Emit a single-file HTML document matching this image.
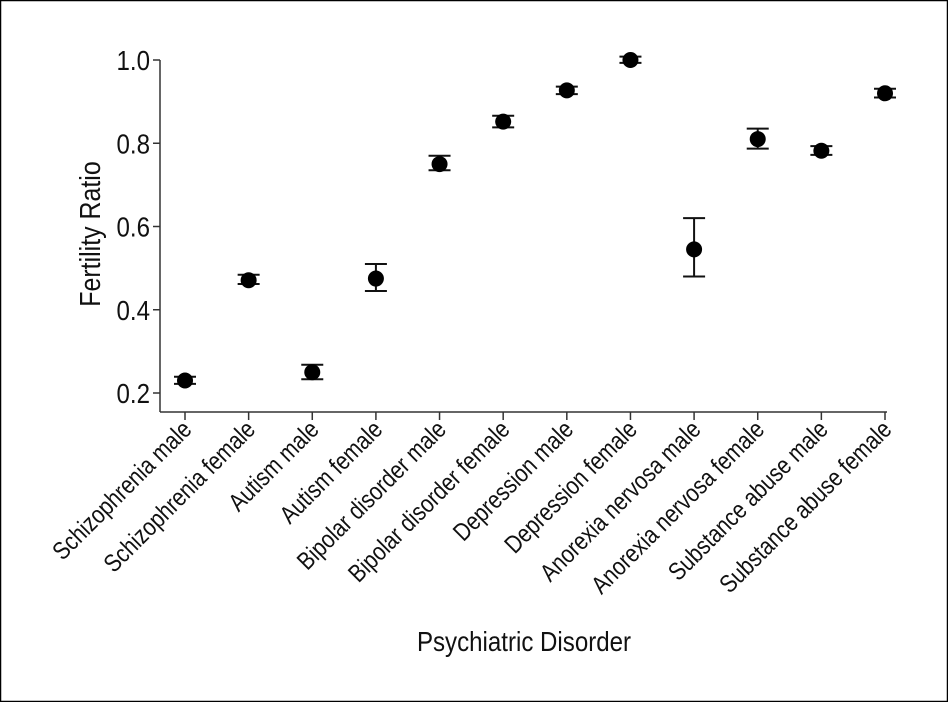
<!DOCTYPE html>
<html><head><meta charset="utf-8"><style>
html,body{margin:0;padding:0;background:#fff}
svg{display:block}
text{font-family:"Liberation Sans",sans-serif;fill:#111}
</style></head><body>
<svg width="948" height="702" viewBox="0 0 948 702">
<rect x="0.5" y="0.5" width="947" height="701" fill="#fff" stroke="#000" stroke-width="1.5"/>
<g id="plot"></g>
</svg>
<script>
const categories=["Schizophrenia male","Schizophrenia female","Autism male","Autism female","Bipolar disorder male","Bipolar disorder female","Depression male","Depression female","Anorexia nervosa male","Anorexia nervosa female","Substance abuse male","Substance abuse female"];
const values=[0.23,0.471,0.25,0.475,0.75,0.852,0.927,1.0,0.545,0.81,0.782,0.92];
const lower=[0.222,0.462,0.233,0.445,0.735,0.838,0.918,0.993,0.48,0.787,0.772,0.91];
const upper=[0.239,0.484,0.268,0.51,0.77,0.866,0.936,1.008,0.62,0.835,0.793,0.931];
const yTicks=[0.2,0.4,0.6,0.8,1.0];
const NS="http://www.w3.org/2000/svg";
const g=document.getElementById('plot');
function y(v){return 393-(v-0.2)/0.8*333;}
function x(i){return 185+i*(885-185)/(categories.length-1);}
function el(t,a){const e=document.createElementNS(NS,t);for(const k in a)e.setAttribute(k,a[k]);g.appendChild(e);return e;}
let e=el('line',{x1:160,y1:60,x2:160,y2:412,stroke:'#333','stroke-width':1.5});


e=el('line',{x1:160,y1:412,x2:887,y2:412,stroke:'#333','stroke-width':1.5});


yTicks.forEach(t=>{
  e=el('line',{x1:153,y1:y(t),x2:160,y2:y(t),stroke:'#333','stroke-width':1.5});
  
  
  e=el('text',{x:0,y:0,'text-anchor':'end','font-size':28,transform:`translate(150 ${y(t)+10}) scale(0.86 1)`});
  e.textContent=t.toFixed(1);
  
  
});
categories.forEach((c,i)=>{
  const cx=x(i);
  e=el('line',{x1:cx,y1:412,x2:cx,y2:420,stroke:'#333','stroke-width':1.5});
  
  
  e=el('text',{x:0,y:0,'text-anchor':'end','font-size':25,transform:`translate(${cx+8} 431) rotate(-45) scale(0.84 1)`});
  e.textContent=c;
  
  
  e=el('path',{d:`M${cx-11},${y(upper[i])}H${cx+11}M${cx},${y(upper[i])}V${y(lower[i])}M${cx-11},${y(lower[i])}H${cx+11}`,stroke:'#111','stroke-width':2,fill:'none'});
  
  
  e=el('circle',{cx:cx,cy:y(values[i]),r:8,fill:'#000'});
  
  
});
e=el('text',{x:0,y:0,'text-anchor':'middle','font-size':28,transform:'translate(524 651) scale(0.86 1)'});
e.textContent='Psychiatric Disorder';


e=el('text',{x:0,y:0,'text-anchor':'middle','font-size':29,transform:'translate(100 234) rotate(-90) scale(0.86 1)'});
e.textContent='Fertility Ratio';


</script>
</body></html>
